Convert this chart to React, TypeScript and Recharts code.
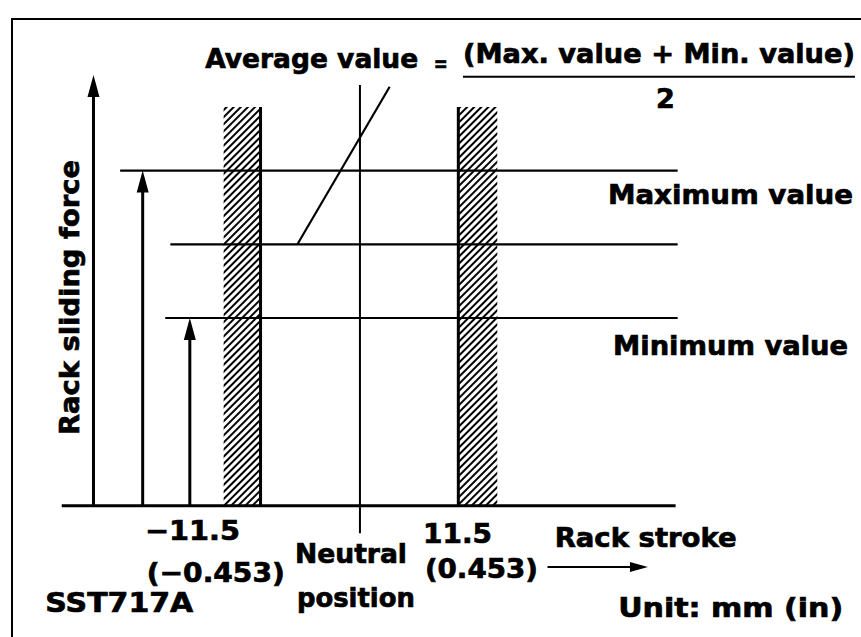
import {
  ComposedChart,
  Line,
  ReferenceArea,
  ReferenceDot,
  ReferenceLine,
  XAxis,
  YAxis,
} from "recharts";

// x: rack stroke (mm), y: rack sliding force (relative units)
const baseline = [
  { x: -29.1, y: 0 },
  { x: 30.8, y: 0 },
];

const levelNames = ["Maximum value", "Average value", "Minimum value"];
const levelForces = [100, 78, 56];
const levelStarts = [-23.4, -18.5, -19];
const levelEnd = 31;

const strokeEnds = [-11.5, 11.5];
const bandFrom = [-13.3, 9.6];
const bandTo = [-9.7, 13.4];
const bandTop = 119;

const forceAxisX = -26;
const forceAxisTop = 128.5;
const maxArrowX = -21.2;
const minArrowX = -16.6;

const neutralX = 0;
const neutralSpan = [-8.2, 125.5];
const averagePointer = [
  { x: -6.1, y: 78 },
  { x: 2.9, y: 125 },
];

const FONT = "'DejaVu Sans', sans-serif";

type NoteOpts = {
  anchor?: "start" | "middle" | "end";
  width?: number;
  size?: number;
  rotate?: boolean;
};

// text drawn at a data point (viewBox of a zero-radius ReferenceDot)
const note =
  (text: string, { anchor = "start", width, size = 27, rotate }: NoteOpts = {}) =>
  (props: any) => {
    const vb = props.viewBox || {};
    const x = vb.x ?? 0;
    const y = vb.y ?? 0;
    return (
      <text
        x={x}
        y={y}
        textAnchor={anchor}
        fontFamily={FONT}
        fontWeight="bold"
        fontSize={size}
        fill="#000"
        stroke="#000"
        strokeWidth={0.7}
        textLength={width}
        lengthAdjust={width ? "spacingAndGlyphs" : undefined}
        transform={rotate ? `rotate(-90 ${x} ${y})` : undefined}
      >
        {text}
      </text>
    );
  };

const upHead = (p: any) => (
  <path d={`M${p.cx},${p.cy} l-6,22 l12,0 z`} fill="#000" />
);
const rightHead = (p: any) => (
  <path d={`M${p.cx},${p.cy} l-18,-5 l0,10 z`} fill="#000" />
);
const noDot = () => <g />;

const App = (): JSX.Element => (
  <div style={{ position: "absolute", left: 0, top: 0, width: 861, height: 637, background: "#fff" }}>
    <div
      style={{
        position: "absolute",
        left: 11,
        top: 18,
        width: 850,
        height: 619,
        borderTop: "2px solid #000",
        borderLeft: "2px solid #000",
      }}
    />
    <ComposedChart
      width={861}
      height={637}
      data={baseline}
      margin={{ top: 3, right: 4, bottom: 4, left: 11.5 }}
      style={{ position: "absolute", left: 0, top: 0 }}
    >
      <defs>
        <pattern
          id="hatch"
          patternUnits="userSpaceOnUse"
          width={5}
          height={5}
          patternTransform="rotate(45)"
        >
          <rect x={0} y={0} width={2} height={5} fill="#000" />
        </pattern>
      </defs>
      <XAxis dataKey="x" type="number" domain={[-34, 48.5]} hide />
      <YAxis type="number" domain={[-38, 150]} hide />

      {bandFrom.map((b, i) => (
        <ReferenceArea
          key={`band-${i}`}
          x1={b}
          x2={bandTo[i]}
          y1={0}
          y2={bandTop}
          fill="url(#hatch)"
          fillOpacity={1}
          stroke="none"
        />
      ))}
      {strokeEnds.map((s, i) => (
        <ReferenceLine
          key={`edge-${i}`}
          segment={[
            { x: s < 0 ? bandTo[i] : bandFrom[i], y: 0 },
            { x: s < 0 ? bandTo[i] : bandFrom[i], y: bandTop },
          ]}
          stroke="#000"
          strokeWidth={3}
        />
      ))}

      {levelForces.map((f, i) => (
        <ReferenceLine
          key={`lvl-${i}`}
          segment={[
            { x: levelStarts[i], y: f },
            { x: levelEnd, y: f },
          ]}
          stroke="#000"
          strokeWidth={2.2}
        />
      ))}

      <ReferenceLine
        segment={[
          { x: neutralX, y: neutralSpan[0] },
          { x: neutralX, y: neutralSpan[1] },
        ]}
        stroke="#000"
        strokeWidth={2}
      />
      <ReferenceLine segment={averagePointer} stroke="#000" strokeWidth={2.2} />

      <ReferenceLine
        segment={[
          { x: forceAxisX, y: 0 },
          { x: forceAxisX, y: forceAxisTop - 4 },
        ]}
        stroke="#000"
        strokeWidth={3}
      />
      <ReferenceDot x={forceAxisX} y={forceAxisTop} r={0} shape={upHead} />
      <ReferenceLine
        segment={[
          { x: maxArrowX, y: 0 },
          { x: maxArrowX, y: levelForces[0] - 4 },
        ]}
        stroke="#000"
        strokeWidth={3}
      />
      <ReferenceDot x={maxArrowX} y={levelForces[0]} r={0} shape={upHead} />
      <ReferenceLine
        segment={[
          { x: minArrowX, y: 0 },
          { x: minArrowX, y: levelForces[2] - 4 },
        ]}
        stroke="#000"
        strokeWidth={3}
      />
      <ReferenceDot x={minArrowX} y={levelForces[2]} r={0} shape={upHead} />

      <Line
        dataKey="y"
        stroke="#000"
        strokeWidth={3}
        dot={false}
        isAnimationActive={false}
      />

      {/* formula */}
      <ReferenceLine
        segment={[
          { x: 10.05, y: 128 },
          { x: 48.3, y: 128 },
        ]}
        stroke="#000"
        strokeWidth={2}
      />
      <ReferenceDot x={-15.1} y={130.6} r={0} shape={noDot} label={{ content: note(levelNames[1], { width: 213 }) }} />
      <ReferenceDot x={7.2} y={129.6} r={0} shape={noDot} label={{ content: note("=", { width: 14, size: 22 }) }} />
      <ReferenceDot x={10.05} y={132.1} r={0} shape={noDot} label={{ content: note("(Max. value + Min. value)", { width: 392 }) }} />
      <ReferenceDot x={29.8} y={118.7} r={0} shape={noDot} label={{ content: note("2", { anchor: "middle" }) }} />

      <ReferenceDot x={24.2} y={90} r={0} shape={noDot} label={{ content: note(levelNames[0], { width: 245 }) }} />
      <ReferenceDot x={24.7} y={45} r={0} shape={noDot} label={{ content: note(levelNames[2], { width: 235 }) }} />

      <ReferenceDot x={-27.4} y={62.1} r={0} shape={noDot} label={{ content: note("Rack sliding force", { anchor: "middle", width: 275, rotate: true }) }} />

      <ReferenceDot x={-20.98} y={-10.2} r={0} shape={noDot} label={{ content: note("−11.5", { width: 95 }) }} />
      <ReferenceDot x={-20.8} y={-22.8} r={0} shape={noDot} label={{ content: note("(−0.453)", { width: 138 }) }} />
      <ReferenceDot x={-30.7} y={-31.7} r={0} shape={noDot} label={{ content: note("SST717A", { width: 148 }) }} />
      <ReferenceDot x={-6.34} y={-17.1} r={0} shape={noDot} label={{ content: note("Neutral", { width: 112 }) }} />
      <ReferenceDot x={-6.15} y={-30.2} r={0} shape={noDot} label={{ content: note("position", { width: 118 }) }} />
      <ReferenceDot x={6.15} y={-11.1} r={0} shape={noDot} label={{ content: note("11.5", { width: 69 }) }} />
      <ReferenceDot x={6.34} y={-21.6} r={0} shape={noDot} label={{ content: note("(0.453)", { width: 113 }) }} />
      <ReferenceDot x={19.0} y={-12.3} r={0} shape={noDot} label={{ content: note("Rack stroke", { width: 182 }) }} />
      <ReferenceDot x={25.2} y={-33.2} r={0} shape={noDot} label={{ content: note("Unit: mm (in)", { width: 225 }) }} />

      <ReferenceLine
        segment={[
          { x: 18.3, y: -18.3 },
          { x: 27, y: -18.3 },
        ]}
        stroke="#000"
        strokeWidth={2}
      />
      <ReferenceDot x={28.1} y={-18.3} r={0} shape={rightHead} />
    </ComposedChart>
  </div>
);

export default App;
